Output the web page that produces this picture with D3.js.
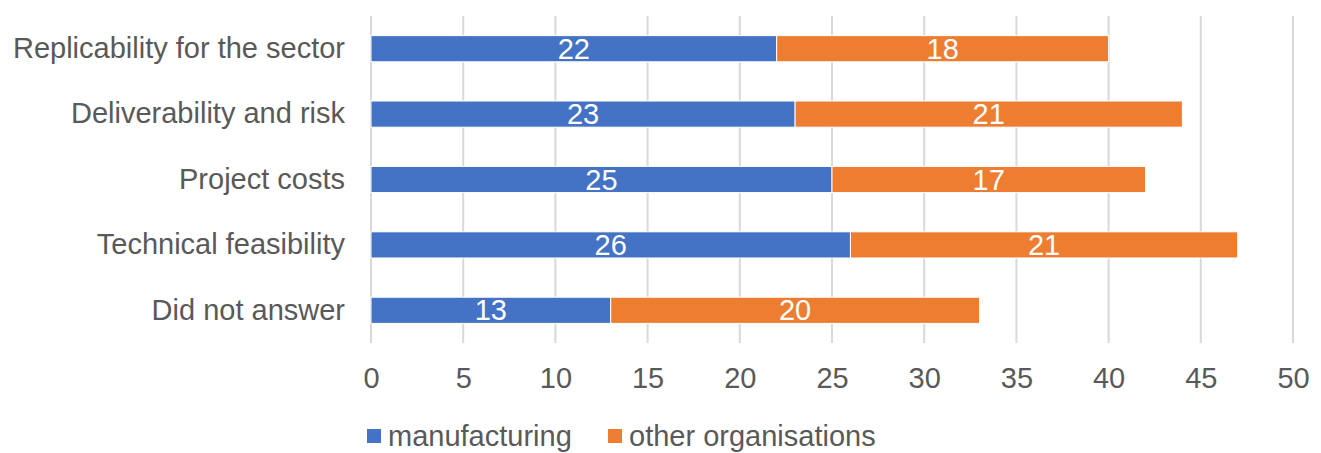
<!DOCTYPE html>
<html>
<head>
<meta charset="utf-8">
<script src="https://cdn.jsdelivr.net/npm/d3@7"></script>
<style>
  html, body { margin: 0; padding: 0; background: #fff; }
  svg { display: block; font-family: "Liberation Sans", Arial, sans-serif; }
</style>
</head>
<body>
<svg id="chart" width="1321" height="453"></svg>
<script>
// Criteria listed top to bottom
const categories = [
  "Replicability for the sector",
  "Deliverability and risk",
  "Project costs",
  "Technical feasibility",
  "Did not answer"
];
const manufacturing = [22, 23, 25, 26, 13];
const otherOrganisations = [18, 21, 17, 21, 20];
const seriesNames = ["manufacturing", "other organisations"];
const seriesColors = ["#4472C4", "#ED7D31"];
const xTicks = [0, 5, 10, 15, 20, 25, 30, 35, 40, 45, 50];

const svg = d3.select("#chart");
const textColor = "#595959";
const fontSize = 29;

const x = d3.scaleLinear().domain([0, 50]).range([371, 1293]);
const y = d3.scaleBand().domain(categories).range([16, 343]).paddingInner(0.6).paddingOuter(0.3);

// vertical gridlines
svg.append("g")
  .selectAll("line")
  .data(xTicks)
  .join("line")
  .attr("x1", d => x(d)).attr("x2", d => x(d))
  .attr("y1", 16).attr("y2", 343)
  .attr("stroke", "#d9d9d9")
  .attr("stroke-width", 2);

// stacked data
const rows = categories.map((c, i) => ({
  cat: c,
  manufacturing: manufacturing[i],
  other: otherOrganisations[i]
}));
const stack = d3.stack().keys(["manufacturing", "other"]);
const layers = stack(rows);

const g = svg.append("g");
layers.forEach((layer, li) => {
  const lg = g.append("g");
  lg.selectAll("rect")
    .data(layer)
    .join("rect")
    .attr("x", d => x(d[0]))
    .attr("y", d => y(d.data.cat))
    .attr("width", d => x(d[1]) - x(d[0]))
    .attr("height", y.bandwidth())
    .attr("fill", seriesColors[li])
    .attr("stroke", "#fff")
    .attr("stroke-width", 1);
  lg.selectAll("text")
    .data(layer)
    .join("text")
    .attr("x", d => (x(d[0]) + x(d[1])) / 2)
    .attr("y", d => y(d.data.cat) + y.bandwidth() / 2)
    .attr("dy", "0.35em")
    .attr("text-anchor", "middle")
    .attr("fill", "#fff")
    .attr("font-size", fontSize)
    .text(d => d[1] - d[0]);
});

// category labels
const yAxis = d3.axisLeft(y).tickSize(0).tickPadding(0);
svg.append("g")
  .attr("transform", "translate(345,0)")
  .call(yAxis)
  .call(s => s.select(".domain").remove())
  .call(s => s.selectAll("text")
    .attr("font-size", fontSize)
    .attr("fill", textColor)
    .attr("font-family", "Liberation Sans, Arial, sans-serif"));

// value axis labels
const xAxis = d3.axisBottom(x).tickValues(xTicks).tickSize(0).tickPadding(0);
svg.append("g")
  .attr("transform", "translate(0,378)")
  .call(xAxis)
  .call(s => s.select(".domain").remove())
  .call(s => s.selectAll("text")
    .attr("dy", "0.35em")
    .attr("font-size", fontSize)
    .attr("fill", textColor)
    .attr("font-family", "Liberation Sans, Arial, sans-serif"));

// legend
const legendX = [367, 608];
const legend = svg.append("g");
seriesNames.forEach((name, i) => {
  legend.append("rect")
    .attr("x", legendX[i]).attr("y", 429)
    .attr("width", 14).attr("height", 14)
    .attr("fill", seriesColors[i]);
  legend.append("text")
    .attr("x", legendX[i] + 21).attr("y", 436)
    .attr("dy", "0.35em")
    .attr("font-size", fontSize)
    .attr("fill", textColor)
    .text(name);
});
</script>
</body>
</html>
